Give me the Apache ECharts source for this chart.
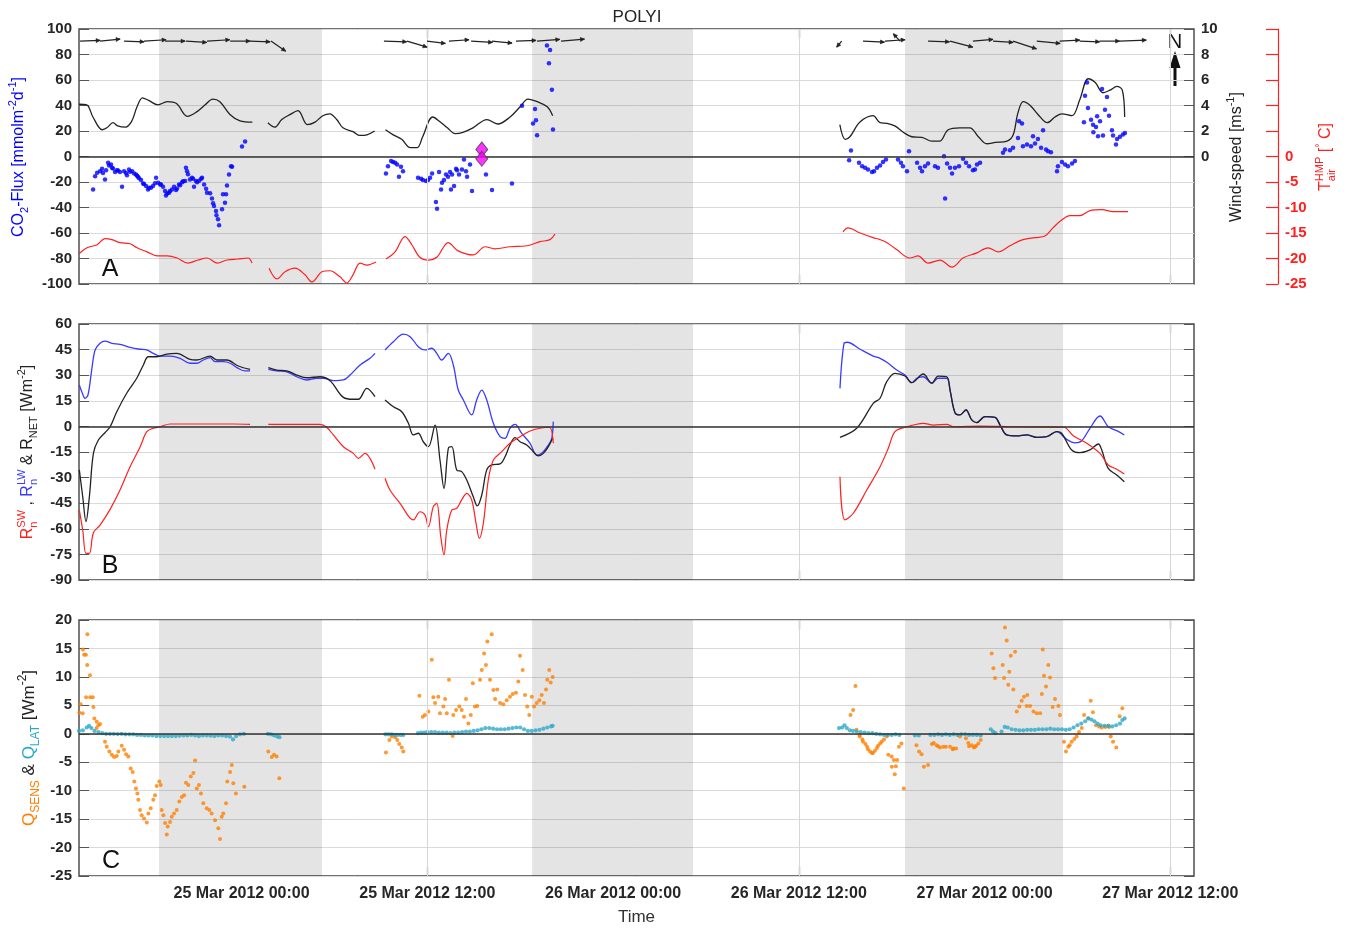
<!DOCTYPE html>
<html><head><meta charset="utf-8">
<script src="https://cdn.jsdelivr.net/npm/echarts@6/dist/echarts.min.js"></script>
<style>html,body{margin:0;padding:0;background:#fff}#chart{width:1355px;height:930px}</style>
</head><body><div id="chart"></div>
<script>
// ---------- DATA (time in hours relative to 25 Mar 2012 00:00) ----------
const nightSpans = [[-5.33, 5.2], [18.77, 29.17], [42.86, 53.07]];
const tickHours = [0, 12, 24, 36, 48, 60];
const tickLabels = ['25 Mar 2012 00:00','25 Mar 2012 12:00','26 Mar 2012 00:00','26 Mar 2012 12:00','27 Mar 2012 00:00','27 Mar 2012 12:00'];
const gridHours = [12, 36, 60];

const windSpeed = [
[-10.5,4.1],[-10.0,4.05],[-9.6,3.1],[-9.0,2.1],[-8.7,2.25],[-8.3,2.65],[-8.0,2.4],[-7.5,2.3],[-7.1,2.75],[-6.75,3.9],[-6.4,4.6],[-6.0,4.4],[-5.4,4.05],[-4.8,4.3],[-4.2,4.15],[-3.5,3.15],[-2.9,3.5],[-2.35,4.05],[-1.85,4.5],[-1.4,4.3],[-0.75,3.3],[-0.1,2.8],[0.7,2.7],
[1.2,null],
[1.7,2.65],[2.15,2.3],[2.6,2.9],[3.15,3.3],[3.65,3.6],[4.25,2.5],[4.75,2.7],[5.25,3.2],[5.7,3.35],[6.15,2.9],[6.55,2.25],[7.2,1.95],[7.65,1.65],[8.1,1.7],[8.6,2.0],
[9.0,null],
[9.3,2.1],[9.8,1.7],[10.35,1.35],[10.9,0.7],[11.35,0.7],[11.7,1.55],[12.35,3.1],[12.8,2.75],[13.3,2.25],[13.8,1.8],[14.3,1.9],[14.95,2.25],[15.85,2.9],[16.55,2.55],[17.35,3.1],[18.0,3.9],[18.5,4.5],[19.1,4.3],[19.75,3.9],[20.1,3.2],
[30,null],
[38.65,2.5],[39.0,1.35],[39.3,1.55],[39.95,2.7],[40.8,3.2],[41.25,2.65],[41.7,2.6],[42.2,2.4],[42.75,1.9],[43.3,1.55],[43.95,1.5],[44.6,1.2],[45.1,1.2],[45.65,2.1],[46.4,2.25],[47.05,2.25],[47.6,1.55],[48.15,1.0],[48.7,1.1],[49.45,1.2],[49.85,1.7],[50.15,3.4],[50.5,4.3],[50.95,4.0],[51.45,3.3],[52.05,2.65],[52.55,3.1],[53.0,3.35],[53.65,3.2],[54.15,4.45],[54.7,6.1],[55.15,5.8],[55.65,5.0],[56.1,5.2],[56.55,5.5],[56.9,5.2],[57.05,3.1]
];

const airTemp = [
[-10.5,-19.1],[-9.98,-17.9],[-9.33,-17.3],[-8.82,-16.1],[-8.37,-16.3],[-7.85,-16.9],[-7.2,-17.1],[-6.75,-17.9],[-6.1,-18.7],[-5.46,-19.5],[-4.81,-19.5],[-4.17,-19.9],[-3.46,-20.9],[-2.81,-20.3],[-2.23,-19.9],[-1.58,-20.9],[-0.94,-20.3],[-0.23,-20.1],[0.42,-19.9],[0.68,-20.9],
[1.2,null],
[1.78,-21.9],[2.29,-24.0],[2.81,-22.6],[3.46,-21.9],[4.1,-23.2],[4.55,-24.6],[5.2,-22.6],[5.72,-22.4],[6.36,-23.6],[6.81,-24.8],[7.2,-23.2],[7.66,-20.9],[8.1,-21.3],[8.69,-20.7],
[9.0,null],
[9.33,-20.1],[9.92,-18.7],[10.56,-15.7],[11.0,-17.3],[11.5,-19.7],[12.05,-20.3],[12.63,-19.7],[13.0,-18.0],[13.34,-16.9],[13.99,-18.5],[14.96,-19.3],[15.73,-17.7],[16.38,-18.1],[17.34,-17.7],[18.44,-17.5],[19.28,-16.7],[19.93,-16.3],[20.25,-15.2],
[30,null],
[38.85,-14.8],[39.18,-14.0],[39.96,-15.0],[40.8,-15.9],[41.25,-16.3],[41.7,-16.9],[42.34,-18.3],[43.18,-19.9],[43.7,-19.5],[44.35,-20.9],[45.12,-20.3],[45.9,-21.7],[46.61,-19.9],[47.51,-18.9],[48.22,-17.9],[48.87,-18.7],[49.64,-17.5],[50.48,-16.3],[51.26,-15.9],[51.9,-15.6],[52.42,-14.0],[53.0,-12.4],[53.52,-11.6],[54.17,-11.6],[54.81,-10.6],[55.59,-10.4],[56.3,-10.8],[57.27,-10.8]
];

const co2Flux = [
[-9.59,-25.8],[-9.46,-15.4],[-9.33,-12.8],[-9.14,-11.5],[-9.01,-9.6],[-8.82,-18],[-8.75,-10.7],[-8.62,-4.9],[-8.43,-6.3],[-8.37,-8.8],[-8.17,-12.2],[-8.04,-10.7],[-7.85,-12.2],[-7.72,-23.7],[-7.59,-11.5],[-7.4,-14.8],[-7.27,-10.2],[-7.07,-11.5],[-6.94,-13.3],[-6.82,-14.1],[-6.69,-15.9],[-6.49,-18.5],[-6.36,-21.1],[-6.17,-23.2],[-6.04,-25.8],[-5.85,-24.5],[-5.72,-23.2],[-5.52,-16.6],[-5.39,-20.6],[-5.2,-21.9],[-5.07,-23.7],[-4.94,-27.1],[-4.88,-30.5],[-4.68,-28.4],[-4.49,-25.8],[-4.36,-23.7],[-4.23,-26.3],[-4.04,-21.9],[-3.84,-20.1],[-3.65,-19.3],[-3.59,-8.8],[-3.52,-11.5],[-3.33,-18],[-3.2,-16.6],[-3.07,-23.7],[-2.94,-19.3],[-2.87,-20.1],[-2.55,-16.6],[-2.42,-21.9],[-2.29,-25.2],[-2.23,-28.4],[-2.03,-28.9],[-1.91,-33],[-1.84,-36.7],[-1.78,-38.8],[-1.65,-42.7],[-1.62,-46.1],[-1.52,-49.2],[-1.45,-53.9],[-1.26,-41.4],[-1.2,-29.7],[-1.07,-36.2],[-1.0,-29.7],[-0.94,-22.7],[-0.81,-14.1],[-0.68,-7.6],[-0.61,-8.0],[0.03,7.8],[0.23,11.7],
[-8.95,-13],[-8.56,-7],[-8.3,-9.5],[-7.98,-11],[-7.46,-13],[-7.2,-12],[-6.75,-15],[-6.62,-17],[-6.3,-21.5],[-5.98,-24.5],[-5.59,-21],[-5.26,-22],[-4.81,-29],[-4.62,-27],[-4.17,-25],[-3.97,-22.5],[-3.78,-19.5],[-3.46,-14],[-3.13,-17.5],[-2.74,-19],[-2.61,-17.5],
[9.33,-13.3],[9.46,-7.6],[9.66,-3.6],[9.79,-4.4],[9.92,-4.9],[10.05,-6.3],[10.17,-15.9],[10.3,-8.0],[10.43,-11.5],[11.4,-16.6],[11.6,-17.4],[11.72,-18.5],[11.92,-19.3],[12.05,-18.5],[12.18,-16.6],[12.31,-13.3],[12.56,-35.7],[12.63,-40.9],[12.76,-12.2],[12.89,-25.8],[12.95,-20.6],[13.08,-18.5],[13.21,-14.1],[13.34,-15.9],[13.47,-12.2],[13.53,-25.8],[13.6,-14.1],[13.73,-23.2],[13.86,-9.6],[13.92,-10.7],[14.05,-14.1],[14.24,-10.2],[14.37,-2.3],[14.5,-11.5],[14.57,-15.9],[14.76,-6.3],[14.89,-27.1],[15.79,-14.1],[16.18,-26.3],[17.47,-21.1],
[18.12,39.8],[18.83,25.8],[18.96,37.3],[19.02,28.4],[19.09,16.6],[19.73,87],[19.86,73.2],[19.93,83.6],[20.05,52.3],[20.12,21.1],
[39.25,-2.9],[39.37,4.7],[39.89,-4.9],[40.09,-7.6],[40.28,-8.8],[40.47,-10.2],[40.73,-12.2],[40.86,-11.5],[41.05,-8.8],[41.25,-7.0],[41.44,-4.4],[41.63,-2.3],[42.41,-2.3],[42.6,-4.9],[42.73,-7.6],[42.99,-11.5],[43.12,4.2],[43.64,-4.9],[43.83,-8.8],[43.96,-11.5],[44.15,-7.6],[44.35,-5.5],[44.8,-7.6],[44.99,-8.8],[45.38,0.2],[45.45,-33],[45.58,-5.5],[45.77,-8.8],[45.9,-13.3],[46.09,-8.8],[46.35,-7.6],[46.61,-1.8],[46.8,-4.9],[47.0,-7.6],[47.25,-10.7],[47.38,-10.2],[47.51,-6.3],[47.71,-4.9],
[49.19,2.9],[49.32,5.5],[49.64,4.9],[49.84,6.8],[50.16,14.6],[50.23,27.6],[50.42,25.8],[50.48,8.0],[50.74,9.4],[51.0,8.0],[51.13,15.9],[51.26,10.2],[51.45,13.8],[51.65,6.8],[51.78,20.5],[51.97,5.5],[52.1,4.2],[52.29,3.4],
[52.68,-11.5],[52.74,-7.6],[53.0,-4.4],[53.2,-6.3],[53.39,-7.6],[53.65,-5.5],[53.84,-3.6],
[54.42,26.8],[54.49,47.7],[54.62,58.1],[54.68,38],[54.88,28.9],[55.01,25],[55.03,19],[55.2,23.2],[55.27,31.5],[55.33,15.9],[55.46,27.6],[55.59,52.9],[55.65,16.4],[55.78,36.7],[55.91,46.6],[56.04,32],[56.23,20.5],[56.3,16.4],[56.49,9.4],[56.56,13.8],[56.75,15.4],[56.94,17.2],[57.07,18.5]
];
const co2Flagged = [[15.52, 5.5], [15.52, -1.8]];

// wind vectors: [time, u (east, m/s), v (north, m/s)]
const windVectors = [
[-10.43,3.0,0.1],[-9.14,3.0,0.3],[-7.59,3.0,-0.1],[-6.3,3.3,0.2],[-4.94,3.0,0.0],[-3.59,3.1,-0.2],[-2.23,3.4,0.2],[-0.74,3.0,0.0],[0.55,3.0,-0.1],[1.9,2.2,-1.5],
[9.2,3.4,-0.1],[10.69,3.0,-0.9],[11.98,2.75,-0.35],[13.4,3.0,0.2],[14.83,3.2,-0.2],[16.18,3.0,-0.3],[17.73,3.0,0.1],[19.09,3.4,0.25],[20.64,3.5,0.3],
[38.77,-0.75,-0.9],[40.15,3.2,-0.15],[41.57,3.0,0.2],[42.54,-1.0,1.1],[44.35,3.2,-0.1],[45.77,3.4,-0.9],[47.25,3.0,0.25],[48.55,3.0,-0.2],[49.84,3.5,-1.15],[51.37,3.5,-0.35],[52.85,3.0,0.15],[54.14,3.0,-0.1],[55.43,3.0,0.0],[56.72,4.0,0.15]
];

const rnLW = [
[-10.48,24.3],[-10.32,20.3],[-10.11,16.5],[-9.92,18.4],[-9.68,33],[-9.46,44.8],[-9.14,48.7],[-8.82,50],[-8.38,48.7],[-7.85,48.1],[-7.2,46.3],[-6.56,45.2],[-6.12,44.8],[-5.7,42.8],[-5.26,41.2],[-4.62,41.2],[-3.97,39.9],[-3.33,37],[-2.89,37],[-2.47,38.9],[-2.03,40.3],[-1.71,37.9],[-1.18,37.9],[-0.74,37],[-0.21,34],[0.23,32.5],[0.55,32.5],
[1.1,null],
[1.73,33.4],[2.27,32.5],[2.92,32],[3.57,29.1],[4.21,27.2],[4.86,28.2],[5.28,28.2],[5.93,26.8],[6.58,27.2],[7.01,30.1],[7.66,36],[8.3,39.9],[8.62,42.8],
[9.0,null],
[9.27,44.8],[9.81,49.6],[10.45,54.1],[10.89,52.6],[11.42,46.7],[11.85,44.8],[12.29,45.8],[12.61,42.8],[12.93,38.9],[13.36,42.8],[13.68,36],[14.0,21.3],[14.33,15.5],[14.87,6.7],[15.19,15.5],[15.52,21.3],[15.84,15.5],[16.27,1.8],[16.7,-6],[17.02,-7],[17.34,-1.1],[17.67,1.2],[18.1,-4.1],[18.64,-9.9],[19.07,-16.8],[19.39,-15.8],[19.82,-10.9],[20.04,-7],[20.14,2.8],
[30,null],
[38.66,22.3],[38.92,48.7],[39.13,49.3],[39.96,45.2],[40.81,41.2],[41.25,39.9],[41.78,37],[42.33,33],[42.86,30.1],[43.29,25.6],[43.62,28.2],[44.04,29.1],[44.59,25.3],[45.01,28.2],[45.56,28.2],[45.77,21.3],[46.09,8],[46.41,6.7],[46.8,9.6],[47.17,3.8],[47.49,2.2],[48.03,5.7],[48.68,5.3],[49.0,0.8],[49.43,-5],[50.08,-5.6],[50.72,-5],[51.37,-6.4],[52.02,-6],[52.66,-3.1],[53.31,-7.6],[53.84,-9.6],[54.28,-8.4],[54.81,-1.1],[55.46,6.1],[55.99,-0.2],[56.54,-2.5],[57.03,-5]
];

const rnNET = [
[-10.48,-25.5],[-10.26,-41.2],[-10.05,-55.8],[-9.83,-41.2],[-9.57,-15.8],[-9.25,-8],[-8.82,-3.7],[-8.49,-0.2],[-8.06,8.6],[-7.42,19.4],[-6.77,28.2],[-6.34,36],[-6.02,40.8],[-5.48,40.8],[-4.83,42.4],[-4.19,42.8],[-3.33,39.3],[-2.89,38.9],[-2.03,41.2],[-1.6,38.9],[-0.96,38.9],[-0.21,35.4],[0.55,33.4],
[1.1,null],
[1.73,34.4],[2.27,33],[2.92,32.6],[3.57,30.1],[4.21,28.5],[5.07,29.1],[5.72,26.8],[6.58,17],[7.22,15.9],[7.55,15.9],[8.09,22.3],[8.62,17.4],
[9.0,null],
[9.27,15.5],[9.81,11.5],[10.35,8.6],[10.78,1.8],[11.1,-5],[11.42,-4],[11.74,-9],[12.07,-11.9],[12.5,0.8],[12.82,-19.7],[13.08,-36.3],[13.36,-12.8],[13.58,-11.9],[13.9,-25.5],[14.22,-26.5],[14.55,-31.4],[14.97,-41.2],[15.23,-46.6],[15.52,-40.2],[15.84,-25.5],[16.16,-22.6],[16.7,-22],[17.02,-17.8],[17.34,-10.9],[17.67,-6.6],[17.99,-9],[18.42,-10.9],[18.85,-14.8],[19.17,-17.3],[19.5,-15.8],[19.82,-11.9],[20.1,-7],
[30,null],
[38.66,-6.4],[39.74,-1.1],[40.81,13.5],[41.25,16.5],[41.68,26.2],[42.21,31.1],[42.86,29.5],[43.29,25.6],[44.04,30.7],[44.59,25.3],[45.01,29.5],[45.56,29.1],[45.77,21.3],[46.09,8],[46.41,6.7],[46.8,9.6],[47.17,3.8],[47.49,2.2],[48.03,5.7],[48.68,5.3],[49.0,0.8],[49.43,-5],[50.08,-5.6],[50.72,-5],[51.37,-6.4],[52.02,-6],[52.66,-3.1],[52.98,-4],[53.63,-13.8],[54.17,-15.4],[54.81,-13.8],[55.35,-10.3],[55.57,-13.8],[55.99,-24.6],[56.54,-28.5],[57.03,-32.4]
];

const rnSW = [
[-10.48,-49],[-10.26,-60.7],[-10.05,-74.4],[-9.83,-74.4],[-9.57,-62.3],[-9.14,-57.8],[-8.49,-48.6],[-7.85,-37.3],[-7.2,-23.6],[-6.56,-12.2],[-6.12,-3.1],[-5.7,-1.1],[-5.26,-0.2],[-4.62,1.4],[-3.54,1.4],[-2.03,1.4],[-0.53,1.4],[0.55,1.2],
[1.1,null],
[1.73,1.2],[3.13,1.2],[5.07,1.2],[5.5,-0.5],[5.93,-5],[6.58,-11.9],[7.22,-15.8],[7.55,-18.7],[7.98,-15.8],[8.3,-18.7],[8.62,-25.1],
[9.0,null],
[9.27,-30.4],[9.59,-37.3],[10.24,-45.1],[11.1,-54.8],[11.53,-50],[11.85,-51.9],[12.07,-58.8],[12.39,-47],[12.61,-45.1],[12.87,-64.6],[13.08,-75.3],[13.26,-60.7],[13.58,-49],[13.9,-48],[14.22,-43.1],[14.55,-39.2],[14.87,-43.1],[15.15,-56.8],[15.36,-65.6],[15.62,-56.8],[15.94,-31.4],[16.27,-19.7],[16.81,-14.8],[17.34,-9.9],[17.99,-6],[18.64,-2.7],[19.28,-1.1],[19.88,-0.5],[20.14,-9.9],
[30,null],
[38.66,-29.5],[38.98,-54.8],[39.52,-50.9],[40.39,-37.3],[41.25,-23.6],[41.78,-12.8],[42.21,-3.1],[42.86,-0.5],[43.4,0.8],[44.04,1.8],[44.69,0.8],[45.56,1.2],[45.99,-0.2],[47.71,0.2],[49.86,-0.2],[53.1,-0.5],[53.75,-5.6],[54.61,-9.9],[55.46,-15.8],[55.99,-22.6],[56.54,-25.1],[57.03,-27.9]
];

const qSens = [
[-10.48,3.7],[-10.39,5.2],[-10.26,3.6],[-10.25,14.8],[-10.17,13.9],[-10.05,13.9],[-9.96,17.5],[-10.04,6.4],[-9.97,12.1],[-9.79,10.3],[-9.78,6.4],[-9.61,6.4],[-9.57,4.7],[-9.51,2.7],[-9.35,2.1],[-9.25,1.5],[-9.36,1.0],[-9.14,1.7],
[-8.82,-1.4],[-8.71,-2.3],[-8.54,-3.1],[-8.38,-3.7],[-8.24,-4.1],[-8.06,-3.9],[-7.96,-3.1],[-7.74,-2.1],[-7.59,-2.8],[-7.46,-3.6],[-7.31,-4.0],[-7.16,-6.1],[-7.03,-6.7],[-6.93,-8.4],[-6.82,-9.6],[-6.73,-10.5],[-6.67,-11.6],[-6.56,-13.4],[-6.45,-14.3],[-6.3,-14.9],[-6.12,-15.6],[-6.02,-14],[-5.87,-13.1],[-5.7,-11.6],[-5.59,-10.8],[-5.48,-9.2],[-5.31,-8.4],[-5.22,-9],[-5.16,-13.4],[-5.05,-14.3],[-4.94,-15.7],[-4.83,-17.7],[-4.77,-16.3],[-4.62,-15.5],[-4.51,-14.6],[-4.36,-14],[-4.19,-13.4],[-4.02,-11.9],[-3.86,-11.1],[-3.71,-10.8],[-3.59,-8.6],[-3.44,-9],[-3.28,-7.5],[-3.11,-6.9],[-3.0,-4.7],[-2.89,-9.6],[-2.75,-9],[-2.62,-10.5],[-2.47,-12.2],[-2.25,-13.1],[-2.08,-13.4],[-1.93,-14],[-1.71,-15.2],[-1.5,-16.6],[-1.39,-18.5],[-1.28,-14.6],[-1.18,-14],[-1.0,-12.2],[-0.92,-8.4],[-0.74,-6.7],[-0.63,-5.5],[-0.53,-8.7],[-0.36,-10.5],[0.18,-9.3],
[1.73,-3.1],[1.95,-4.1],[2.1,-3.7],[2.27,-4],[2.44,-7.8],
[9.33,-3.3],[9.55,-1.1],[9.7,-0.5],[9.92,-0.6],[10.06,-1.1],[10.19,-1.8],[10.35,-2.4],[10.45,-3.1],
[11.49,6.7],[11.71,3.0],[11.85,3.3],[12.07,3.9],[12.29,13],[12.39,6.4],[12.5,5.4],[12.71,6.5],[12.82,3.6],[13.04,4.8],[13.15,6.1],[13.26,3.6],[13.4,9.5],[13.64,-0.4],[13.68,3.3],[13.86,4.2],[14.07,4.8],[14.22,4.2],[14.37,3.0],[14.5,6.1],[14.65,1.8],[14.81,3.3],[14.94,8.9],[15.08,4.8],[15.23,4.9],[15.41,9.5],[15.52,11.2],[15.67,14.1],[15.79,12.1],[15.88,16.2],[16.05,9.5],[16.16,17.5],[16.27,7.7],[16.38,6.1],[16.52,7.8],[16.7,5.4],[16.91,5.2],[17.13,5.9],[17.34,6.5],[17.52,7.0],[17.73,7.2],[17.88,9.2],[17.99,13.7],[18.16,11.2],[18.31,6.8],[18.46,4.8],[18.59,3.3],[18.75,6.5],[18.9,4.8],[19.07,5.4],[19.24,5.9],[19.39,6.8],[19.54,5.4],[19.67,7.8],[19.75,9.5],[19.88,11.2],[19.97,9.0],[20.1,10.0],
[39.34,3.3],[39.51,4.2],[39.66,8.4],[39.72,0.7],[39.94,-0.5],[39.92,-0.2],[40.11,-1.0],[40.15,-1.4],[40.31,-1.8],[40.41,-2.3],[40.47,-2.7],[40.6,-3.1],[40.73,-3.4],[40.79,-3.4],[40.92,-3.0],[41.05,-2.5],[41.12,-2.1],[41.25,-1.7],[41.36,-1.4],[41.5,-1.0],[41.68,-0.5],[41.78,-3.7],[42.0,-4.0],[42.14,-4.6],[42.27,-5.7],[42.01,-5.8],[42.2,-7.1],[42.35,-4.6],[42.47,-2.3],[42.63,-1.7],[42.78,-9.6],[43.6,-2.0],[43.77,-3.1],[43.93,-3.6],[44.08,-5.8],[44.35,-5.5],[44.6,-1.8],[44.72,-1.6],[44.9,-2.0],[45.0,-2.2],[45.12,-2.4],[45.33,-2.3],[45.5,-2.3],[45.77,-2.3],[45.94,-2.7],[46.0,-2.6],[46.16,-2.6],[46.41,-0.5],[46.8,-0.8],[46.95,-1.6],[47.0,-2.2],[47.17,-2.0],[47.3,-2.4],[47.38,-2.3],[47.45,-2.1],[47.6,-1.7],[47.75,-1.1],
[48.46,14.1],[48.57,11.5],[48.68,9.8],[49.17,12.1],[49.26,9.8],[49.32,18.7],[49.43,16.4],[49.53,8.6],[49.6,10.9],[49.69,13.7],[49.86,7.8],[49.97,14.4],[50.08,3.9],[50.25,4.8],[50.4,5.8],[50.55,6.5],[50.76,6.8],[50.72,4.9],[50.94,4.9],[51.16,3.9],[51.37,3.6],[51.59,3.6],[51.7,7.0],[51.76,14.8],[51.84,10.2],[51.97,8.3],[52.12,12.1],[52.23,9.9],[52.4,4.7],[52.55,6.1],[52.77,4.9],[52.87,3.3],
[53.13,-1.4],[53.26,-3.1],[53.41,-2.3],[53.5,-2.0],[53.63,-1.4],[53.8,-0.9],[53.95,-0.5],[54.1,0.3],[54.28,1.0],[54.43,3.3],[54.7,2.7],[54.86,5.8],[55.0,3.8],[55.2,1.5],[55.4,1.3],[55.57,1.1],[55.8,1.2],[56.0,1.4],[56.04,1.2],[56.15,-0.5],[56.3,-1.4],[56.51,-2.4],[56.73,3.1],[56.9,4.5]
];

const qLat = [
[-10.5,0.5],[-10.25,0.6],[-10.0,1.1],[-9.85,1.4],[-9.7,1.0],[-9.5,0.5],[-9.25,0.3],[-9.0,0.1],[-8.75,0.0],[-8.5,0.0],[-8.25,0.0],[-8.0,-0.05],[-7.75,0.0],[-7.5,-0.1],[-7.25,-0.1],[-7.0,-0.1],[-6.75,-0.2],[-6.5,-0.2],[-6.25,-0.3],[-6.0,-0.3],[-5.75,-0.3],[-5.5,-0.4],[-5.25,-0.4],[-5.0,-0.4],[-4.75,-0.4],[-4.5,-0.4],[-4.25,-0.4],[-4.0,-0.35],[-3.75,-0.3],[-3.5,-0.3],[-3.25,-0.2],[-3.0,-0.3],[-2.75,-0.4],[-2.5,-0.3],[-2.25,-0.3],[-2.0,-0.35],[-1.75,-0.4],[-1.5,-0.3],[-1.25,-0.3],[-1.0,-0.4],[-0.75,-0.5],[-0.55,-1.0],[-0.35,-0.4],[-0.1,-0.1],[0.15,0.0],
[1.7,0.0],[1.9,-0.1],[2.1,-0.3],[2.3,-0.5],[2.45,-0.6],
[9.3,-0.1],[9.5,-0.1],[9.7,-0.1],[9.9,-0.2],[10.1,-0.2],[10.3,-0.2],[10.45,-0.2],
[11.4,0.1],[11.6,0.2],[11.8,0.2],[12.0,0.3],[12.25,0.3],[12.5,0.3],[12.75,0.2],[13.0,0.2],[13.25,0.2],[13.5,0.1],[13.75,0.2],[14.0,0.2],[14.25,0.3],[14.5,0.4],[14.75,0.4],[15.0,0.5],[15.25,0.6],[15.5,0.8],[15.75,1.0],[16.0,1.0],[16.25,0.9],[16.5,0.8],[16.75,0.8],[17.0,0.8],[17.25,0.9],[17.5,1.0],[17.75,1.1],[18.0,1.1],[18.25,0.8],[18.5,0.5],[18.75,0.5],[19.0,0.6],[19.25,0.7],[19.5,0.9],[19.75,1.1],[20.0,1.3],[20.1,1.4],
[38.6,1.0],[38.8,1.1],[38.95,1.5],[39.1,1.0],[39.3,0.6],[39.5,0.5],[39.75,0.4],[40.0,0.3],[40.25,0.2],[40.5,0.1],[40.75,0.1],[41.0,0.0],[41.25,-0.1],[41.5,-0.2],[41.75,-0.2],[42.0,-0.2],[42.25,-0.1],[42.5,-0.2],[43.5,-0.3],[43.75,-0.3],[44.5,-0.2],[44.75,-0.2],[45.0,-0.1],[45.25,-0.2],[45.5,-0.1],[45.75,-0.2],[46.0,-0.1],[46.25,-0.2],[46.5,-0.1],[46.75,-0.1],[47.0,-0.2],[47.25,-0.2],[47.5,-0.2],[47.75,-0.3],
[48.4,0.8],[48.55,0.4],[48.7,0.1],[49.1,0.4],[49.3,1.2],[49.5,1.1],[49.75,0.8],[50.0,0.7],[50.25,0.6],[50.5,0.6],[50.75,0.7],[51.0,0.7],[51.25,0.7],[51.5,0.8],[51.75,0.8],[52.0,0.8],[52.25,0.9],[52.5,0.8],[52.75,0.8],[53.0,0.8],[53.25,0.7],[53.5,0.8],[53.75,1.1],[54.0,1.5],[54.25,1.8],[54.5,2.2],[54.7,2.7],[54.9,2.5],[55.1,2.2],[55.3,1.8],[55.5,1.5],[55.75,1.4],[56.0,1.4],[56.25,1.3],[56.5,1.5],[56.75,1.8],[56.9,2.4],[57.05,2.7]
];

// ---------- STYLE ----------
const FONT = '"Liberation Sans", Arial, Helvetica, sans-serif';
const X_MIN = -10.5, X_MAX = 61.53;
const BLUE = '#0000ff', LBLUE = '#3a3aff', RED = '#ff2020', ORANGE = '#ff7f00', CYAN = '#2aa9c9', DARK = '#222222';
const TXT = '#262626';
const ARROW_BASE = 9.05, ARROW_PX = 6.7;

const chart = echarts.init(document.getElementById('chart'));

const measure = document.createElement('canvas').getContext('2d');
function tw(t, s) { measure.font = s + 'px ' + FONT; return measure.measureText(t).width; }
function txt(x, y, t, s, c) {
  return { type: 'text', x: x, y: y, style: { text: t, fontSize: s, fontFamily: FONT, fill: c, align: 'left', verticalAlign: 'middle' } };
}
function axisName(cx, cy, big, pieces) {
  const small = Math.round(big * 0.68);
  let x = 0; const ch = [];
  pieces.forEach(p => {
    const c = p.c || DARK;
    if (p.k === 'stack') {
      ch.push(txt(x, -big * 0.36, p.sup, small, c));
      ch.push(txt(x, big * 0.38, p.sub, small, c));
      x += Math.max(tw(p.sup, small), tw(p.sub, small));
    } else if (p.k === 'sup') {
      ch.push(txt(x, -big * 0.36, p.t, small, c)); x += tw(p.t, small);
    } else if (p.k === 'sub') {
      ch.push(txt(x, big * 0.38, p.t, small, c)); x += tw(p.t, small);
    } else {
      ch.push(txt(x, 0, p.t, big, c)); x += tw(p.t, big);
    }
  });
  ch.forEach(e => { e.x -= x / 2; });
  return { type: 'group', x: cx, y: cy, rotation: Math.PI / 2, children: ch, silent: true };
}

const grids = [
  { left: 79, top: 29, width: 1115, height: 255 },
  { left: 79, top: 324, width: 1115, height: 256 },
  { left: 79, top: 620, width: 1115, height: 256 }
].map(g => Object.assign(g, { show: true, borderColor: '#444', borderWidth: 1.4, backgroundColor: 'transparent', containLabel: false, outerBoundsMode: 'none' }));

function xAx(grid, pos, labels) {
  return {
    type: 'value', gridIndex: grid, position: pos, min: X_MIN, max: X_MAX,
    axisLine: { show: false, onZero: false },
    axisTick: { show: true, inside: true, length: 9, customValues: gridHours, lineStyle: { color: '#444', width: 1.2 } },
    axisLabel: labels ? {
      show: true, customValues: tickHours, margin: 10,
      formatter: v => { const i = tickHours.indexOf(Math.round(v)); return i >= 0 ? tickLabels[i] : ''; },
      fontFamily: FONT, fontWeight: 'bold', fontSize: 16, color: TXT
    } : { show: false },
    splitLine: { show: false },
    name: labels ? 'Time' : '', nameLocation: 'middle', nameGap: 33,
    nameTextStyle: { fontFamily: FONT, fontSize: 17, color: '#333' }
  };
}
const labelStyle = { fontFamily: FONT, fontWeight: 'bold', fontSize: 15, color: TXT };
function yLeft(grid, min, max, iv) {
  return {
    type: 'value', gridIndex: grid, position: 'left', min: min, max: max, interval: iv,
    axisLine: { show: false, onZero: false },
    axisTick: { show: true, inside: true, length: 10, lineStyle: { color: '#555', width: 1 } },
    axisLabel: Object.assign({ margin: 7 }, labelStyle),
    splitLine: { show: true, lineStyle: { color: '#dadada', width: 1 } }
  };
}
function yMirror(grid, min, max, iv) {
  return {
    type: 'value', gridIndex: grid, position: 'right', min: min, max: max, interval: iv,
    axisLine: { show: false, onZero: false },
    axisTick: { show: true, inside: true, length: 10, lineStyle: { color: '#555', width: 1 } },
    axisLabel: { show: false }, splitLine: { show: false }
  };
}

const windTicks = [0, 2, 4, 6, 8, 10];
const tempLabels = [0, -5, -10, -15, -20, -25];

const yAxes = [
  yLeft(0, -100, 100, 20),
  { type: 'value', gridIndex: 0, position: 'right', min: -10, max: 10, interval: 2,
    axisLine: { show: false, onZero: false },
    axisTick: { show: true, inside: true, length: 10, customValues: windTicks, lineStyle: { color: '#555' } },
    axisLabel: Object.assign({ margin: 7, customValues: windTicks }, labelStyle), splitLine: { show: false } },
  { type: 'value', gridIndex: 0, position: 'right', offset: 84, min: -25, max: 25, interval: 5,
    axisLine: { show: true, onZero: false, lineStyle: { color: RED, width: 1.2 } },
    axisTick: { show: true, inside: true, length: 12, lineStyle: { color: RED, width: 1.2 } },
    axisLabel: Object.assign({}, labelStyle, { margin: 7, customValues: tempLabels, color: RED }), splitLine: { show: false } },
  yLeft(1, -90, 60, 15),
  yMirror(1, -90, 60, 15),
  yLeft(2, -25, 20, 5),
  yMirror(2, -25, 20, 5)
];

function bg(xi, yi) {
  return {
    type: 'line', xAxisIndex: xi, yAxisIndex: yi, data: [[X_MIN, null]], silent: true, z: 1, showSymbol: false,
    markArea: { silent: true, itemStyle: { color: 'rgba(0,0,0,0.105)' }, data: nightSpans.map(s => [{ xAxis: s[0] }, { xAxis: s[1] }]) },
    markLine: {
      silent: true, symbol: ['none', 'none'], label: { show: false }, animation: false,
      data: gridHours.map(h => ({ xAxis: h, lineStyle: { color: '#d6d6d6', width: 1, type: 'solid' } }))
        .concat([{ yAxis: 0, lineStyle: { color: '#333', width: 1.6, type: 'solid' } }])
    }
  };
}
function line(xi, yi, data, color, w) {
  return { type: 'line', xAxisIndex: xi, yAxisIndex: yi, data: data, showSymbol: false, smooth: 0.35,
    connectNulls: false, lineStyle: { color: color, width: w || 1.3 }, itemStyle: { color: color }, z: 3, silent: true };
}
function dots(xi, yi, data, color, size) {
  return { type: 'scatter', xAxisIndex: xi, yAxisIndex: yi, data: data, symbolSize: size, itemStyle: { color: color }, z: 4, silent: true };
}

const series = [
  bg(0, 0),
  line(0, 1, windSpeed, DARK, 1.3),
  line(0, 2, airTemp, RED, 1.2),
  dots(0, 0, co2Flux, BLUE, 4.5),
  { type: 'scatter', xAxisIndex: 0, yAxisIndex: 0, data: co2Flagged, symbol: 'diamond', symbolSize: [12, 15],
    itemStyle: { color: '#ff00ff', borderColor: '#444', borderWidth: 1 }, z: 6, silent: true },
  { type: 'custom', xAxisIndex: 0, yAxisIndex: 1, data: windVectors, z: 5, silent: true,
    encode: { x: 0, y: 1 },
    renderItem: function (params, api) {
      const p = api.coord([api.value(0), ARROW_BASE]);
      const u = api.value(1), v = api.value(2);
      const ex = p[0] + u * ARROW_PX, ey = p[1] - v * ARROW_PX;
      const a = Math.atan2(ey - p[1], ex - p[0]);
      const h = 4.5, w = 0.45;
      const head = [[ex, ey], [ex - h * Math.cos(a - w), ey - h * Math.sin(a - w)], [ex - h * Math.cos(a + w), ey - h * Math.sin(a + w)]];
      return { type: 'group', children: [
        { type: 'line', shape: { x1: p[0], y1: p[1], x2: ex, y2: ey }, style: { stroke: DARK, lineWidth: 1.2 } },
        { type: 'polygon', shape: { points: head }, style: { fill: DARK, stroke: DARK, lineWidth: 0.6 } }
      ] };
    }
  },
  bg(1, 3),
  line(1, 3, rnLW, LBLUE, 1.3),
  line(1, 3, rnNET, DARK, 1.3),
  line(1, 3, rnSW, RED, 1.2),
  bg(2, 5),
  dots(2, 5, qSens, ORANGE, 4),
  dots(2, 5, qLat, CYAN, 4.2)
];

const graphics = [
  { type: 'text', x: 637, y: 17, silent: true, style: { text: 'POLYI', fontSize: 17, fontFamily: FONT, fill: DARK, align: 'center', verticalAlign: 'middle' } },
  { type: 'text', x: 110, y: 269, silent: true, style: { text: 'A', fontSize: 25, fontFamily: FONT, fill: '#111', align: 'center', verticalAlign: 'middle' } },
  { type: 'text', x: 110, y: 566, silent: true, style: { text: 'B', fontSize: 25, fontFamily: FONT, fill: '#111', align: 'center', verticalAlign: 'middle' } },
  { type: 'text', x: 111, y: 861, silent: true, style: { text: 'C', fontSize: 25, fontFamily: FONT, fill: '#111', align: 'center', verticalAlign: 'middle' } },
  { type: 'text', x: 1175, y: 42, silent: true, style: { text: 'N', fontSize: 20, fontFamily: FONT, fill: '#111', align: 'center', verticalAlign: 'middle' } },
  { type: 'line', silent: true, shape: { x1: 1175, y1: 86, x2: 1175, y2: 62 }, style: { stroke: '#111', lineWidth: 3 } },
  { type: 'polygon', silent: true, shape: { points: [[1175, 51], [1169.5, 68], [1180.5, 68]] }, style: { fill: '#111' } },
  axisName(19, 157, 16, [{ t: 'CO', c: BLUE }, { t: '2', k: 'sub', c: BLUE }, { t: '-Flux [mmolm', c: BLUE }, { t: '-2', k: 'sup', c: BLUE }, { t: 'd', c: BLUE }, { t: '-1', k: 'sup', c: BLUE }, { t: ']', c: BLUE }]),
  axisName(1237, 157, 16, [{ t: 'Wind-speed [ms' }, { t: '-1', k: 'sup' }, { t: ']' }]),
  axisName(1326, 157, 16, [{ t: 'T', c: RED }, { k: 'stack', sup: 'HMP', sub: 'air', c: RED }, { t: ' [', c: RED }, { t: '°', k: 'sup', c: RED }, { t: ' C]', c: RED }]),
  axisName(28, 452, 16, [{ t: 'R', c: RED }, { k: 'stack', sup: 'SW', sub: 'n', c: RED }, { t: ' , ' }, { t: 'R', c: LBLUE }, { k: 'stack', sup: 'LW', sub: 'n', c: LBLUE }, { t: ' & R' }, { t: 'NET', k: 'sub' }, { t: ' [Wm' }, { t: '-2', k: 'sup' }, { t: ']' }]),
  axisName(29, 748, 17, [{ t: 'Q', c: ORANGE }, { t: 'SENS', k: 'sub', c: ORANGE }, { t: ' & ' }, { t: 'Q', c: CYAN }, { t: 'LAT', k: 'sub', c: CYAN }, { t: ' [Wm' }, { t: '-2', k: 'sup' }, { t: ']' }])
];

chart.setOption({
  animation: false,
  backgroundColor: '#ffffff',
  grid: grids,
  xAxis: [xAx(0, 'bottom', false), xAx(1, 'bottom', false), xAx(2, 'bottom', true), xAx(0, 'top', false), xAx(1, 'top', false), xAx(2, 'top', false)],
  yAxis: yAxes,
  series: series,
  graphic: graphics
});
</script></body></html>
